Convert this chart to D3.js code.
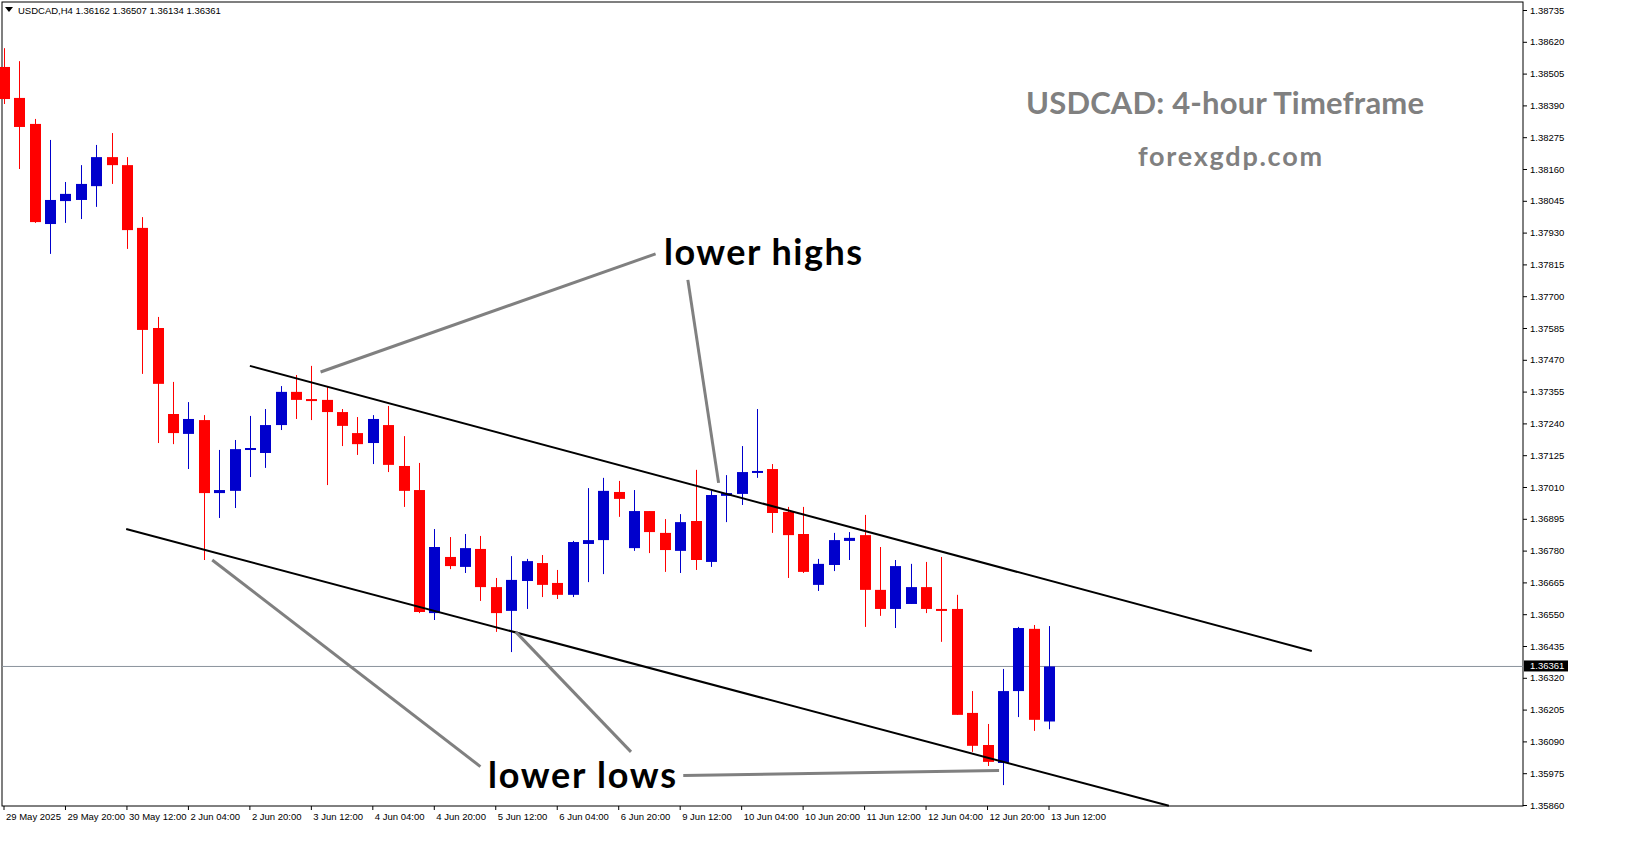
<!DOCTYPE html>
<html><head><meta charset="utf-8">
<script src="https://cdn.jsdelivr.net/npm/d3@7"></script>
<style>body{margin:0;background:#fff;}svg{display:block;}</style>
</head><body>
<script>
// ---- data ----
const opens  = [1.38529,1.38417,1.38323,1.37961,1.38044,1.38048,1.38098,1.38203,1.38174,1.37947,1.37585,1.37274,1.37202,1.37252,1.36988,1.36996,1.37144,1.37133,1.37234,1.37354,1.37328,1.37325,1.37281,1.37205,1.37169,1.37234,1.37086,1.36999,1.36554,1.36757,1.36721,1.36786,1.36648,1.36562,1.36670,1.36735,1.36663,1.36620,1.36804,1.36818,1.36992,1.36789,1.36923,1.36844,1.36779,1.36887,1.36739,1.36978,1.36985,1.37061,1.37075,1.36920,1.36840,1.36656,1.36728,1.36815,1.36836,1.36638,1.36569,1.36587,1.36648,1.36569,1.36569,1.36193,1.36077,1.36012,1.36272,1.36497,1.36162];
const highs  = [1.38597,1.38550,1.38341,1.38265,1.38113,1.38174,1.38247,1.38290,1.38203,1.37986,1.37625,1.37390,1.37317,1.37270,1.37144,1.37180,1.37267,1.37292,1.37375,1.37415,1.37448,1.37372,1.37292,1.37263,1.37270,1.37303,1.37194,1.37097,1.36858,1.36829,1.36840,1.36833,1.36681,1.36760,1.36750,1.36764,1.36710,1.36815,1.37006,1.37043,1.37032,1.36999,1.36923,1.36894,1.36912,1.37072,1.36996,1.37053,1.37158,1.37292,1.37093,1.36938,1.36938,1.36750,1.36844,1.36847,1.36909,1.36793,1.36746,1.36732,1.36739,1.36757,1.36620,1.36272,1.36153,1.36352,1.36504,1.36511,1.36507];
const lows   = [1.38395,1.38160,1.37965,1.37853,1.37965,1.37979,1.38023,1.38106,1.37871,1.37419,1.37169,1.37165,1.37075,1.36746,1.36898,1.36934,1.37046,1.37079,1.37216,1.37256,1.37252,1.37017,1.37158,1.37126,1.37093,1.37064,1.36938,1.36554,1.36529,1.36713,1.36699,1.36598,1.36486,1.36413,1.36569,1.36612,1.36605,1.36612,1.36666,1.36695,1.36902,1.36779,1.36771,1.36703,1.36699,1.36710,1.36721,1.36883,1.36945,1.37043,1.36844,1.36681,1.36699,1.36634,1.36706,1.36746,1.36504,1.36544,1.36500,1.36587,1.36554,1.36450,1.36186,1.36052,1.36001,1.35932,1.36178,1.36128,1.36134];
const closes = [1.38413,1.38312,1.37968,1.38048,1.38070,1.38106,1.38203,1.38174,1.37939,1.37578,1.37383,1.37205,1.37256,1.36988,1.36999,1.37147,1.37151,1.37234,1.37354,1.37325,1.37322,1.37281,1.37231,1.37165,1.37256,1.37090,1.36996,1.36558,1.36793,1.36724,1.36789,1.36648,1.36554,1.36674,1.36742,1.36656,1.36620,1.36811,1.36818,1.36996,1.36967,1.36923,1.36847,1.36782,1.36883,1.36746,1.36981,1.36988,1.37064,1.37068,1.36916,1.36836,1.36703,1.36732,1.36818,1.36826,1.36638,1.36569,1.36724,1.36648,1.36569,1.36567,1.36186,1.36074,1.36016,1.36272,1.36500,1.36168,1.36361];
const priceTicks = [1.38735,1.38620,1.38505,1.38390,1.38275,1.38160,1.38045,1.37930,1.37815,1.37700,1.37585,1.37470,1.37355,1.37240,1.37125,1.37010,1.36895,1.36780,1.36665,1.36550,1.36435,1.36320,1.36205,1.36090,1.35975,1.35860];
const timeLabels = ["29 May 2025","29 May 20:00","30 May 12:00","2 Jun 04:00","2 Jun 20:00","3 Jun 12:00","4 Jun 04:00","4 Jun 20:00","5 Jun 12:00","6 Jun 04:00","6 Jun 20:00","9 Jun 12:00","10 Jun 04:00","10 Jun 20:00","11 Jun 12:00","12 Jun 04:00","12 Jun 20:00","13 Jun 12:00"];
const timeLabelIdx = [0,4,8,12,16,20,24,28,32,36,40,44,48,52,56,60,64,68];
const lastPrice = 1.36361;
// channel lines as [bar index, price]
const upperLine = [[16.0,1.37448],[85.1,1.36417]];
const lowerLine = [[7.95,1.36858],[75.8,1.35857]];

// ---- layout ----
const W=1631,H=861, L=2, R=1523, T=2, B=806;
const svg=d3.select("body").append("svg").attr("width",W).attr("height",H);
const x=d3.scaleLinear().domain([0,68]).range([4,1049]);
const y=d3.scaleLinear().domain([1.35860,1.38735]).range([805,10]);
const sf="'Liberation Sans', Arial, sans-serif";

svg.append("rect").attr("x",L).attr("y",T).attr("width",R-L).attr("height",B-T).attr("fill","#fff").attr("stroke","#000").attr("stroke-width",1);

// last price line
svg.append("line").attr("x1",L).attr("x2",R).attr("y1",y(lastPrice)).attr("y2",y(lastPrice)).attr("stroke","#8a939c").attr("stroke-width",1);

// price axis
const yAxis=d3.axisRight(y).tickValues(priceTicks).tickSize(4).tickFormat(d3.format(".5f"));
const ga=svg.append("g").attr("transform",`translate(${R},0)`).call(yAxis);
ga.select(".domain").remove();
ga.selectAll("text").attr("font-family",sf).attr("font-size",9.5).attr("fill","#000").attr("x",7);
ga.selectAll("line").attr("stroke","#000");

// time axis
const gx=svg.append("g");
timeLabelIdx.forEach((i,k)=>{
  gx.append("line").attr("x1",x(i)).attr("x2",x(i)).attr("y1",B).attr("y2",B+4).attr("stroke","#000");
  gx.append("text").attr("x",x(i)+2).attr("y",B+14).attr("font-family",sf).attr("font-size",9.5).text(timeLabels[k]);
});

// candles
const idx=d3.range(opens.length);
const cg=svg.append("g");
idx.forEach(i=>{
  const up=closes[i]>opens[i];
  const col=up?"#0000cc":"#ff0000";
  const cx=Math.round(x(i))+0.5;
  cg.append("line").attr("x1",cx).attr("x2",cx).attr("y1",y(highs[i])).attr("y2",y(lows[i])).attr("stroke",col).attr("stroke-width",1);
  const top=y(Math.max(opens[i],closes[i])), bot=y(Math.min(opens[i],closes[i]));
  cg.append("rect").attr("x",cx-5.5).attr("width",11).attr("y",top).attr("height",Math.max(2,bot-top)).attr("fill",col);
});

// channel lines
[upperLine,lowerLine].forEach(l=>{
  svg.append("line").attr("x1",x(l[0][0])).attr("y1",y(l[0][1])).attr("x2",x(l[1][0])).attr("y2",y(l[1][1])).attr("stroke","#000").attr("stroke-width",2);
});

// annotation pointer lines [bar index, price]
const pointers=[[[20.6,1.37426],[42.4,1.37853]],[[44.5,1.37759],[46.5,1.37025]],[[13.55,1.36746],[31.0,1.35999]],[[33.3,1.36486],[40.8,1.36052]],[[44.2,1.35967],[64.75,1.35985]]];
pointers.forEach(p=>{
  svg.append("line").attr("x1",x(p[0][0])).attr("y1",y(p[0][1])).attr("x2",x(p[1][0])).attr("y2",y(p[1][1])).attr("stroke","#808080").attr("stroke-width",3);
});

const bf="Lato, 'Open Sans', sans-serif";
svg.append("text").attr("x",664).attr("y",265).attr("font-family",bf).attr("font-weight","bold").attr("font-size",36).attr("textLength",198).attr("fill","#000").text("lower highs");
svg.append("text").attr("x",488).attr("y",788).attr("font-family",bf).attr("font-weight","bold").attr("font-size",36).attr("textLength",188).attr("fill","#000").text("lower lows");
svg.append("text").attr("x",1026).attr("y",114).attr("font-family",bf).attr("font-weight","bold").attr("font-size",31).attr("textLength",398).attr("fill","#808080").text("USDCAD: 4-hour Timeframe");
svg.append("text").attr("x",1138).attr("y",166).attr("font-family",bf).attr("font-weight","bold").attr("font-size",27).attr("textLength",184).attr("fill","#808080").text("forexgdp.com");

// header
svg.append("path").attr("d","M5,7 L13,7 L9,12 Z").attr("fill","#000");
svg.append("text").attr("x",18).attr("y",14).attr("font-family",sf).attr("font-size",9.5).text("USDCAD,H4  1.36162 1.36507 1.36134 1.36361");

// last price label
const lp=svg.append("g").attr("transform",`translate(${R+1},${y(lastPrice)-6})`);
lp.append("rect").attr("width",44).attr("height",11).attr("fill","#000");
lp.append("text").attr("x",6).attr("y",9).attr("font-family",sf).attr("font-size",9.5).attr("fill","#fff").text("1.36361");
</script>
</body></html>
